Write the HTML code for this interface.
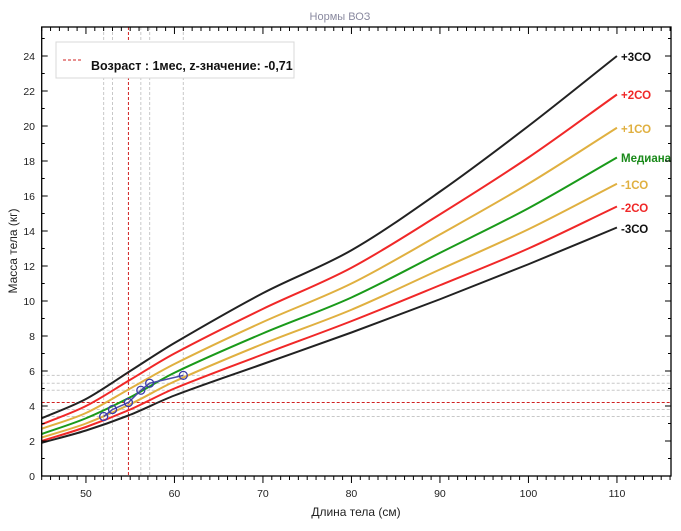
<!DOCTYPE html>
<html><head><meta charset="utf-8"><style>
html,body{margin:0;padding:0;background:#fff;}
svg{display:block;font-family:"Liberation Sans","DejaVu Sans",sans-serif;}
</style></head><body>
<svg id="s" width="681" height="531" xmlns="http://www.w3.org/2000/svg"></svg>
<script>
const X0=41.7,XS=8.85,Y0=476,YS=17.5;
const px=x=>X0+(x-45)*XS, py=y=>Y0-y*YS;
const L=41.7,R=671,T=27,B=476;
let h='';
h+=`<text x="340" y="20" font-size="11" fill="#8a8aa0" text-anchor="middle">Нормы ВОЗ</text>`;
const pts=[[52,3.4],[53,3.8],[54.8,4.2],[56.2,4.9],[57.2,5.3],[61,5.75]];
pts.forEach(p=>{
 if(p[0]!==54.8) h+=`<line x1="${px(p[0])}" y1="${T}" x2="${px(p[0])}" y2="${B}" stroke="#c8c8c8" stroke-dasharray="3,2" stroke-width="1"/>`;
 if(p[1]!==4.2) h+=`<line x1="${L}" y1="${py(p[1])}" x2="${R}" y2="${py(p[1])}" stroke="#c8c8c8" stroke-dasharray="3,2" stroke-width="1"/>`;
});
h+=`<line x1="${px(54.8)}" y1="${T}" x2="${px(54.8)}" y2="${B}" stroke="#d02020" stroke-dasharray="3,2" stroke-width="1"/>`;
h+=`<line x1="${L}" y1="${py(4.2)}" x2="${R}" y2="${py(4.2)}" stroke="#d02020" stroke-dasharray="3,2" stroke-width="1"/>`;
const xs=[45,50,55,60,70,80,90,100,110];
const D={
'-3':[1.9,2.6,3.5,4.6,6.4,8.2,10.1,12.1,14.2],
'-2':[2.0,2.8,3.8,5.0,6.95,8.85,10.9,13.0,15.4],
'-1':[2.2,3.0,4.1,5.4,7.55,9.5,11.8,14.1,16.7],
'0':[2.4,3.3,4.5,5.9,8.15,10.2,12.75,15.3,18.2],
'1':[2.7,3.6,5.0,6.4,8.8,11.0,13.8,16.7,19.9],
'2':[2.95,4.0,5.5,7.0,9.55,11.9,14.95,18.2,21.8],
'3':[3.3,4.4,6.0,7.6,10.45,12.9,16.25,20.0,24.0]};
const col={'-3':'#222','-2':'#f02828','-1':'#e0b040','0':'#1a9a1a','1':'#e0b040','2':'#f02828','3':'#222'};
function path(ys){const n=xs.length,m=[];
for(let i=0;i<n;i++){const a=Math.max(0,i-1),b=Math.min(n-1,i+1);m.push((ys[b]-ys[a])/(xs[b]-xs[a]));}
let d=`M${px(xs[0])},${py(ys[0])}`;
for(let i=0;i<n-1;i++){const dx=(xs[i+1]-xs[i])/3;
d+=` C${px(xs[i]+dx)},${py(ys[i]+m[i]*dx)} ${px(xs[i+1]-dx)},${py(ys[i+1]-m[i+1]*dx)} ${px(xs[i+1])},${py(ys[i+1])}`;}return d;}
['-3','-2','-1','0','1','2','3'].forEach(k=>{h+=`<path d="${path(D[k])}" fill="none" stroke="${col[k]}" stroke-width="2"/>`;});
const lab=[['+3СО','#111',57],['+2СО','#f02828',95],['+1СО','#e0b040',129],['Медиана','#1a8a1a',158],['-1СО','#e0b040',185],['-2СО','#f02828',208],['-3СО','#111',229]];
lab.forEach(l=>{h+=`<text x="621" y="${l[2]+4}" font-size="11.5" font-weight="bold" fill="${l[1]}">${l[0]}</text>`;});
let pd='M'+pts.map(p=>px(p[0])+','+py(p[1])).join(' L');
h+=`<path d="${pd}" fill="none" stroke="#4a4aa8" stroke-width="1.5"/>`;
pts.forEach(p=>{h+=`<circle cx="${px(p[0])}" cy="${py(p[1])}" r="4" fill="none" stroke="#3a3aaa" stroke-width="1.3"/>`;});
h+=`<rect x="${L}" y="${T}" width="${R-L}" height="${B-T}" fill="none" stroke="#000" stroke-width="1.3"/>`;
for(let x=45;x<=116;x++){const X=px(x),maj=x%10==0;
 h+=`<line x1="${X}" y1="${B}" x2="${X}" y2="${B+(maj?7:4)}" stroke="#000"/>`;
 h+=`<line x1="${X}" y1="${T}" x2="${X}" y2="${T+(maj?7:4)}" stroke="#000"/>`;
 if(maj) h+=`<text x="${X}" y="497" font-size="10.5" text-anchor="middle" fill="#222">${x}</text>`;}
for(let y=0;y<=25;y++){const Y=py(y),maj=y%2==0;
 h+=`<line x1="${L}" y1="${Y}" x2="${L+(maj?6:3)}" y2="${Y}" stroke="#000"/>`;
 h+=`<line x1="${R}" y1="${Y}" x2="${R-(maj?6:3)}" y2="${Y}" stroke="#000"/>`;
 if(maj) h+=`<text x="35" y="${Y+4}" font-size="10.5" text-anchor="end" fill="#222">${y}</text>`;}
h+=`<text x="356" y="516" font-size="12" text-anchor="middle" fill="#222">Длина тела (см)</text>`;
h+=`<text transform="translate(17,251) rotate(-90)" font-size="12" text-anchor="middle" fill="#222">Масса тела (кг)</text>`;
h+=`<rect x="56" y="42" width="238" height="36" fill="#fff" stroke="#d8d8d8"/>`;
h+=`<line x1="63" y1="60" x2="82" y2="60" stroke="#d02020" stroke-dasharray="3,2"/>`;
h+=`<text x="91" y="70" font-size="12.5" font-weight="bold" fill="#111">Возраст : 1мес, z-значение: -0,71</text>`;
document.getElementById('s').innerHTML=h;
</script>
</body></html>
